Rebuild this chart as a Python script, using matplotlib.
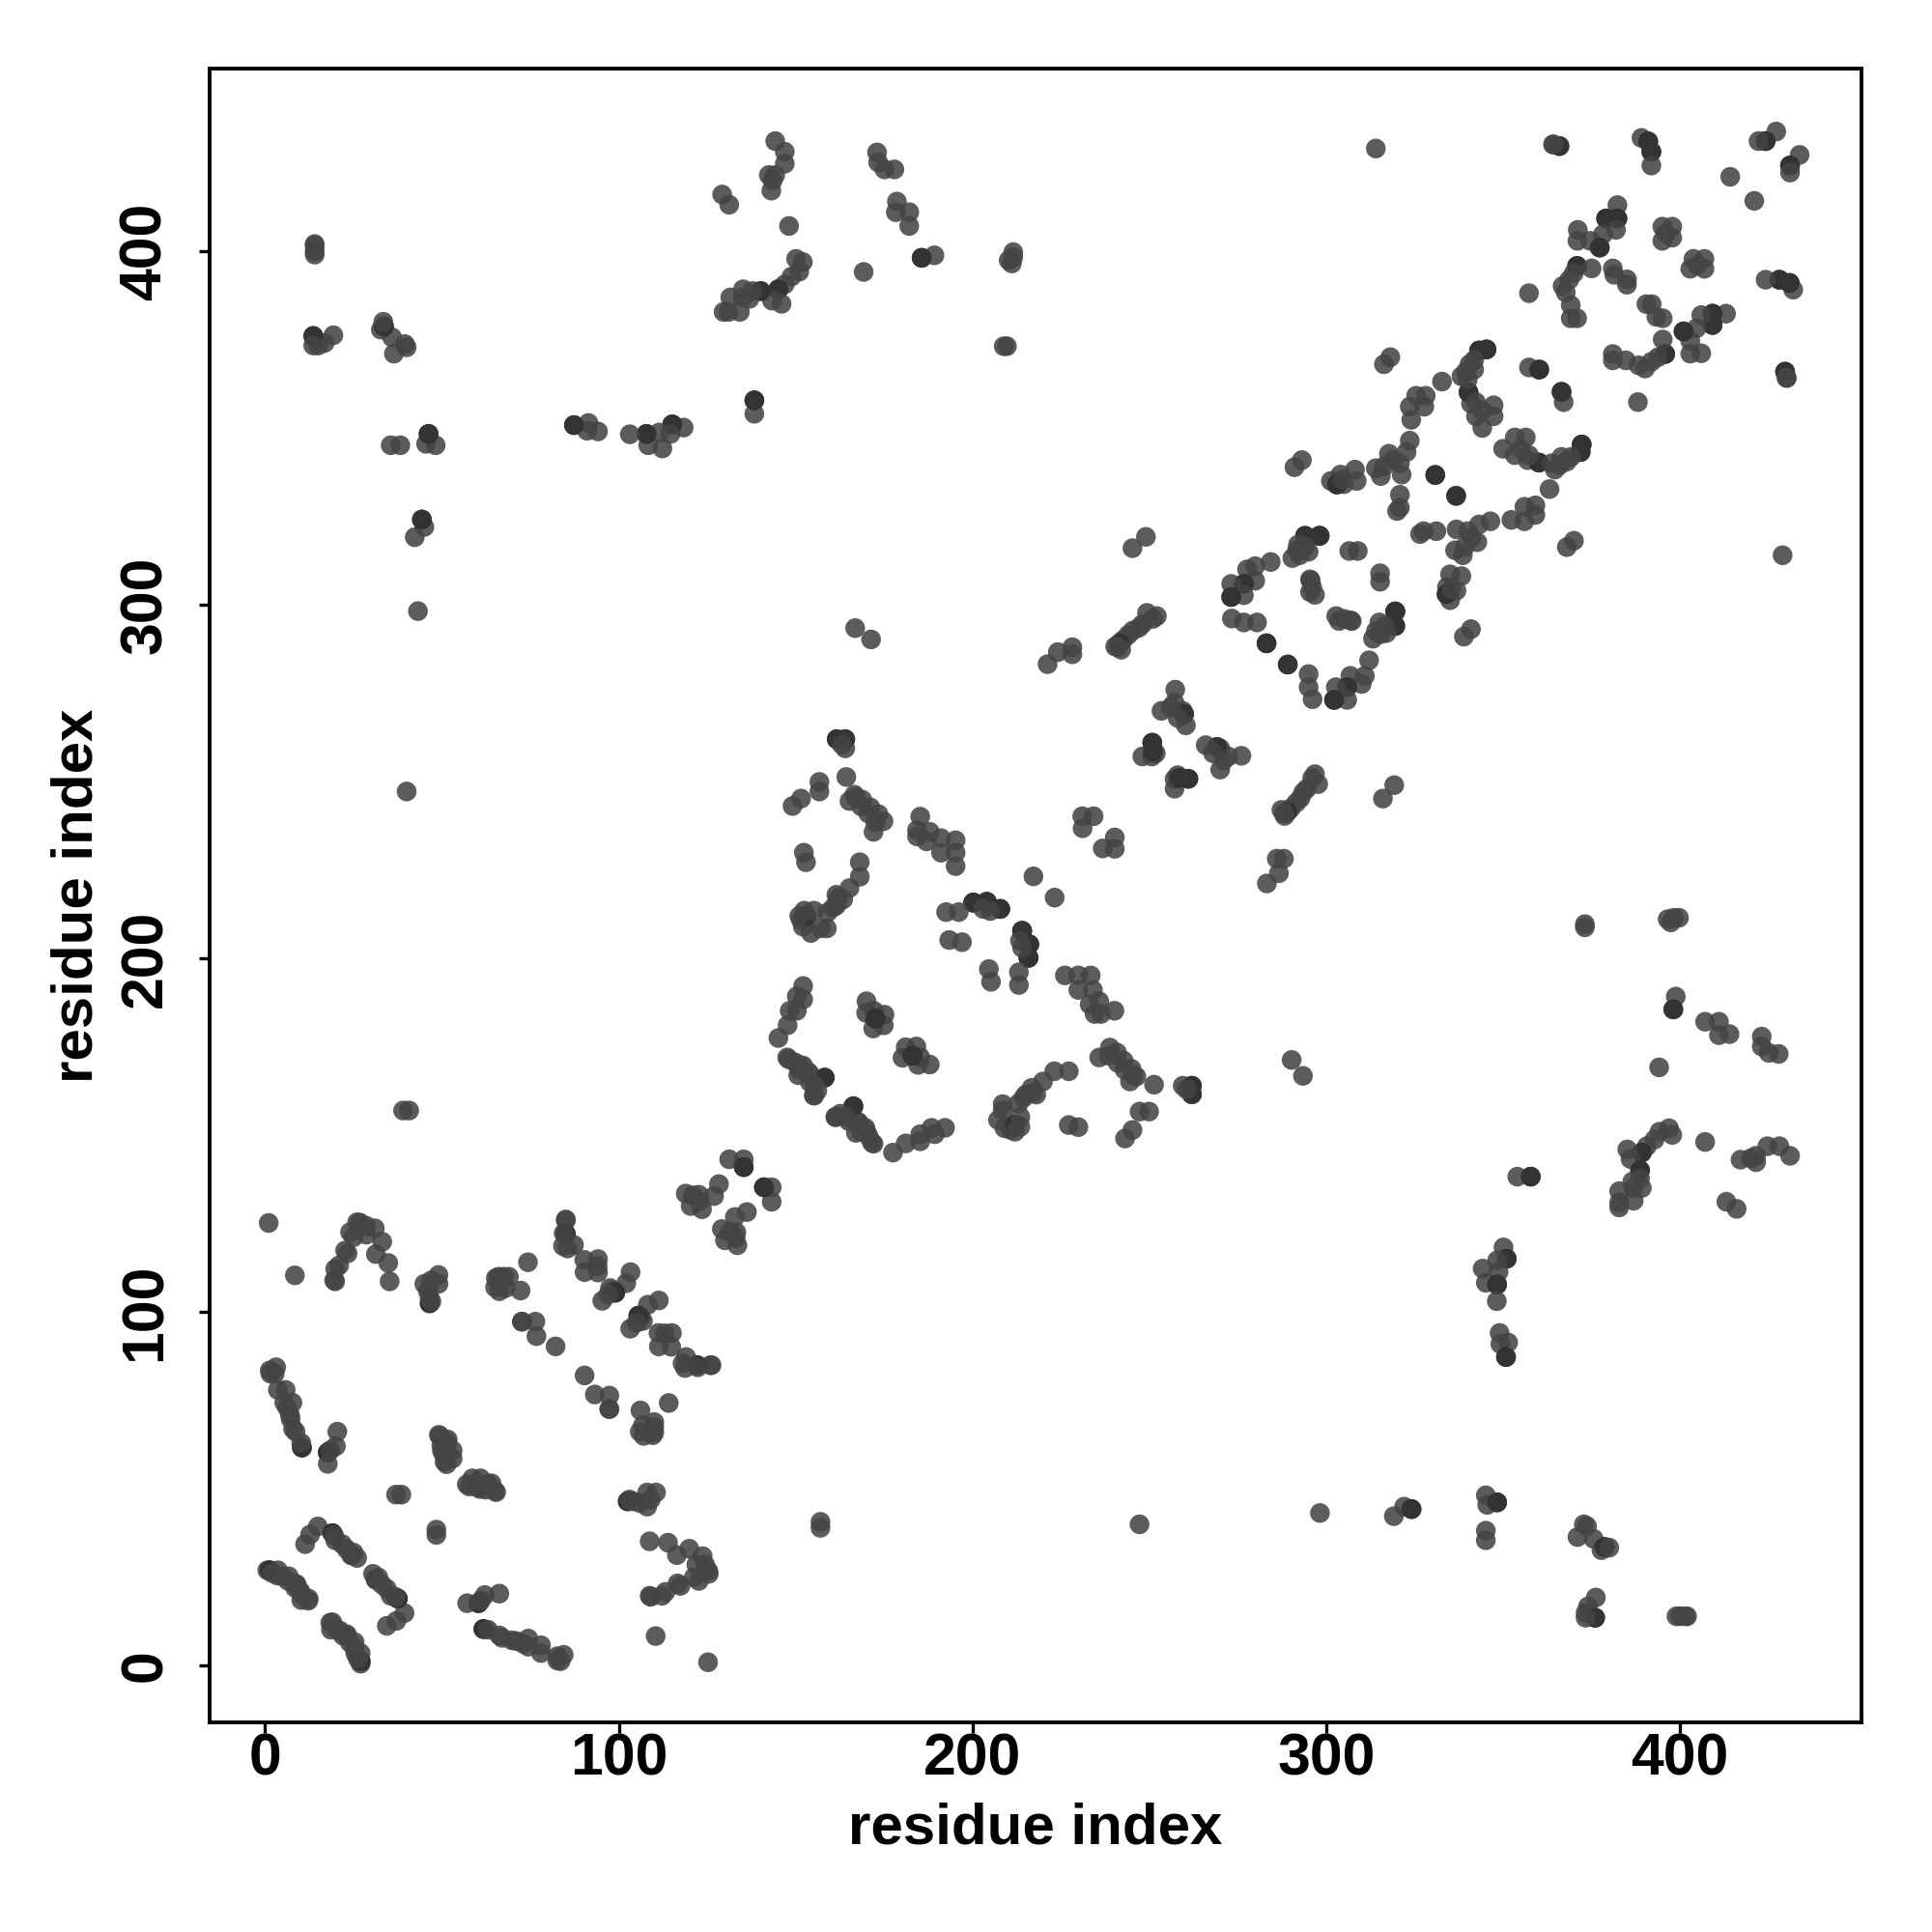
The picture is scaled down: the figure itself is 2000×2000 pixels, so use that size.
import matplotlib
matplotlib.use('Agg')
import matplotlib.pyplot as plt
from matplotlib.colors import to_rgba

plt.rcParams['font.family'] = ['Liberation Sans', 'DejaVu Sans']
plt.rcParams['font.weight'] = 'bold'

# contact pairs (i > j), the map is symmetric so each pair is drawn on both sides
# repeated pairs are the darker spots in the picture
contact_pairs = [
    # helix bundle near the origin
    (27, 0.6), (27, 1.3), (27, 1.3), (26.2, 2), (27, 3.6), (25.5, 3.5), (25.3, 5), (25.3, 6.7), (24, 6.5),
    (23, 8.6), (22, 8.5), (21.2, 9.9), (20, 10.5), (19, 12.3), (18.4, 12.2), (18.6, 10.2), (23.1, 8.9),
    (34.4, 11.3), (37.1, 12.7), (39.4, 14.9), (37.5, 19), (37.5, 19), (36.8, 19.5), (34.4, 21.8), (35.5, 19.8),
    (33, 23), (32, 25), (31.2, 24.5), (30.5, 26), (31.3, 24.3),
    (48.4, 37), (48.4, 38.5),
    (65, 49.4), (64, 51.6), (60.9, 53), (62.3, 49.8), (57.7, 50.7), (58.6, 53), (60, 50.5), (62, 51), (63, 51.5),
    (57, 51.3), (65.3, 49.1), (60.7, 50),
    (66.2, 20.4), (62.1, 20), (60.3, 17.7), (60.3, 17.7), (57.1, 17.7), (61, 18.5),
    (61.7, 10.4), (61.7, 10.4), (63, 10.2), (66.2, 8.6), (67, 7.9), (69.8, 7.2), (71, 7), (74.4, 7.7), (74.4, 5.4),
    (73, 6.2), (78, 5.8), (78, 3.6), (82.6, 2.7), (82.6, 1.5), (84.4, 3.1), (83.5, 1.3),
    (72.6, 97.3), (97.3, 76.4), (93.2, 76.7), (90.3, 82.1), (97.3, 72.6),
    (109.6, 65.2), (110, 68.9), (110, 67.5), (105.9, 66.2), (106.1, 72.2), (114.1, 74.3), (106.8, 68), (107, 65), (110, 66),
    (102.5, 46.5), (102.5, 46.5), (104, 46.5), (106, 46), (108, 45), (108, 49), (110.5, 49), (109, 47), (103, 47),
    (125.4, 26), (124.4, 28.6), (123.7, 31), (119.9, 33.1), (108.7, 35.2), (113.9, 34.8), (116.4, 31.3), (122.6, 24),
    (117.4, 22.6), (112.2, 19.8), (108.7, 19.8), (109, 19.5), (125.3, 26.8), (121.9, 28.6), (121.2, 25), (116.6, 23.3),
    (113.2, 20.9),
    (125.2, 1), (110.4, 8.4), (157, 39), (157, 40.7), (247.2, 40),
    # middle stretch along the diagonal
    (126.2, 85), (125.9, 85), (122.1, 85), (122.1, 85), (118.7, 84.2), (119, 87.3), (118, 85.5), (122.3, 84.4), (114.8, 90.2),
    (115, 94.1), (111.2, 94.1), (111.3, 90.3), (113, 94), (111.3, 103.3), (108.2, 102.1), (106, 98.5), (106, 98.5),
    (106.8, 97.5), (105.5, 99), (105.5, 99), (103.2, 95.3), (105, 97),
    (143.2, 131.2), (143.2, 135.3), (141, 135.3), (141, 135.3), (136.2, 128.3), (132.8, 126.9), (133.2, 122.6), (133.5, 118.9),
    (130, 120.3), (129.1, 123.5), (131.4, 122.7), (133, 121),
    (192.2, 152.1), (189.3, 150.3), (188.4, 152.1), (185.2, 148.3), (185.2, 150.3), (181.1, 147.7), (177.5, 145.1),
    (172, 147.6), (170.6, 149.8), (169.7, 152.1), (167.5, 153.9), (166.3, 158.2), (166.3, 158.2), (167, 150.7), (164.3, 155.3),
    (161.3, 155.1), (171.5, 148), (168.5, 151), (165, 154), (161.2, 155.2), (162.6, 156.1), (168, 153.4), (169.9, 151.1),
    (187.9, 170), (184.6, 169.9), (185.2, 172.1), (184.1, 175.1), (181.1, 174.9), (180.2, 171.9), (183, 172.5), (183, 172.5),
    (208.5, 158.8), (208.5, 157), (207.2, 154.3), (210.8, 151.5), (209, 152), (212, 153), (212, 153), (213.5, 155.2),
    (213.5, 152.4), (212, 151), (214.4, 160.6), (213, 159), (216.7, 163.4), (218, 161.5), (219.9, 165.2), (223.1, 168.1),
    (227.2, 168.1), (215, 161.5), (217, 162),
    (227.2, 152.9), (229.9, 152.3), (243.1, 149.1), (245.2, 151.5), (247.2, 156.7), (249.9, 156.7),
    (238.8, 174.8), (235.8, 172), (240.8, 173.4), (242.7, 171.1), (244.9, 168.8), (246.3, 166.6), (244.5, 165.2), (251.3, 164.3),
    (238.5, 172.5), (241, 170.5), (243, 168.5), (245.5, 167),
    (259.4, 164), (262, 164), (262, 164), (262, 161.6), (262, 161.6), (260.5, 163),
    (226.1, 195.2), (229.9, 195.2), (233.4, 195.2), (229.9, 191.1), (234, 191.1), (235.8, 187.9), (233.1, 187),
    (234.5, 184.3), (236.3, 184.3), (240.1, 185.2),
    (215.8, 200.2), (215.8, 200.2), (215.8, 200.2), (216, 204), (216, 204), (216, 204), (214, 207.8), (214, 207.8), (214, 207.8),
    (213.4, 205), (214, 203), (213.1, 196.1), (213.1, 192.5),
    (204.6, 197), (205.2, 193.4),
    (223.2, 217.2),
    (240.2, 231), (240.2, 234.2), (236.8, 231.1),
    (276, 257.3), (272.3, 257.1), (270, 259.4), (269.1, 259.8), (269.1, 259.8), (265.9, 260.3), (270, 253.4), (268, 258), (271, 256),
    (261, 250.8), (261, 250.8), (258, 251.8), (257.1, 248), (257.1, 250.7), (258.5, 251), (258.5, 251),
    (296.8, 252.1), (297.7, 249.3), (296, 251), (294.5, 248), (293.5, 247), (292.7, 245.3), (291.5, 244), (290, 242.5),
    (289, 241.5), (289, 241.5), (288, 241), (287.3, 242), (288.2, 240.3),
    (288, 228.2), (286, 228.2), (286.6, 224.1), (283.2, 221.2),
    (293.4, 166.8), (290.2, 171.3), (316, 245.2), (319.2, 249),
    # upper diagonal loops
    (319.5, 298.1), (319.5, 298.1), (319.5, 298.1), (319.5, 294), (319.5, 294), (315.4, 291.7), (315, 295), (313.2, 290.4), (314, 292.5),
    (316.5, 294), (317, 292), (312.1, 284.3), (310.9, 279.9), (310, 277.6), (306.8, 279.9), (305.9, 276.7), (305.9, 276.7),
    (305.9, 273.1), (302.7, 276.7), (302.2, 273.1), (302.2, 273.1), (296.1, 273.3), (295, 276.7), (295, 280.4), (289.1, 283.1), (289.1, 283.1),
    (307.2, 295.4), (303.6, 295.4), (302.8, 296.8), (305, 296), (306.8, 295.6),
    (315.2, 306.5), (315.2, 308.9),
    (335, 308.6), (338.2, 308.1), (336.8, 304), (334.1, 305), (335, 301.3), (334, 303), (334, 303), (335.4, 304.5), (340.9, 293.1), (338.9, 291),
    (336.7, 330.8), (336.7, 330.8),
    (331.1, 320.8), (327.5, 320.8), (326.5, 320),
    (359.1, 328.1), (356, 327.7), (359.1, 325.4), (356, 323.6), (352.3, 324), (346.4, 323.6), (343.2, 322.7), (340, 320.8),
    (336.8, 321.3), (342.7, 317.7), (339.1, 316.3), (336.4, 315.4), (338.6, 314), (341, 319),
    (370, 318.1), (368, 316.3), (363.1, 332.7),
    (350, 344.1), (353.3, 347.3), (356.4, 347.3), (353.3, 342.3), (356.9, 340.9), (360.1, 340.2), (360.1, 340.2), (357.3, 342.3), (355, 344),
    (372.2, 345.3), (372.2, 345.3), (371.9, 343.2), (371.9, 343.2), (369.2, 341.8), (366.5, 341.8), (364.6, 338.2), (363.7, 340), (366, 339.5), (368, 340.5),
    (367.1, 357.3), (366.5, 360.2), (366.5, 360.2), (388.1, 357.3),
    (395.8, 370.9), (395.8, 370.9), (395.1, 375), (393.8, 370), (391.9, 368.7), (390.1, 366.8), (388.3, 367.7), (384.7, 369.1), (381, 370.9), (381, 369.1),
    (395.1, 381), (393.3, 381.4), (392, 385), (390.5, 385),
    (413, 382.3), (409.2, 382.3), (409.2, 382.3), (409.2, 379.1), (409.2, 379.1), (406, 381.9), (404.7, 378.2), (406, 371.1), (402.9, 371), (402.9, 374.6),
    (401, 377.3), (401, 377.3),
    (406.9, 397.8), (406.9, 395), (403.8, 397.8), (402.9, 395), (405, 396),
    (432, 389.1), (431, 391), (431, 391), (428.1, 391.9), (428.1, 391.9), (424.2, 391.9),
    (433.8, 427.2), (431.1, 424.2), (431.1, 424.2), (431.1, 422.2), (421, 414.2),
    (429.7, 365.9), (429.7, 365.9), (430.2, 364.1), (429, 314),
    # far from the diagonal, right hand side
    (430.1, 364.2), (373.1, 209.7), (373.1, 208.8),
    (396.5, 211.1), (398.3, 211.5), (399.7, 211.5), (397.4, 210.2),
    (398.8, 189.2), (398.1, 185.6), (398.1, 185.6),
    (407.1, 182.1), (411, 182.1), (411, 178.3), (414, 178.6),
    (423.1, 177.9), (423.1, 175.1), (425.1, 173.3), (427.9, 173), (394.1, 169.2),
    (397.8, 150.1), (396.9, 152), (394.2, 151), (392.8, 148.8), (390.6, 146.9), (389.2, 145.1), (389.2, 145.1), (385.1, 146), (386, 143.3),
    (388.7, 140.1), (388.7, 140.1), (388.7, 137.8), (386.9, 135.1), (389.2, 135.1), (382.8, 134.2), (382.8, 129.6), (386.9, 131.5), (386.5, 136.9),
    (382.8, 131), (407.1, 148.1),
    (417.1, 143.1), (421.5, 144.2), (421.5, 142.4), (424.7, 146.9), (428.1, 146.9), (431.1, 144.2), (420, 143.5),
    (413.1, 131.2), (416, 129.2),
    (354, 138.3), (357.8, 138.3), (357.8, 138.3),
    (350.1, 118.3), (351, 115.1), (351, 115.1), (348.3, 114.6), (344.2, 112.3), (348.7, 111.4), (345.1, 108.3), (348.3, 107.8), (348.3, 107.8), (348.2, 103.1),
    (349, 94.1), (351.4, 91.4), (349.2, 91), (350.8, 87.3), (350.8, 87.3),
    (298.2, 43.2), (319.1, 42.3), (322, 45), (324.1, 44.3), (324.1, 44.3),
    (345.1, 48.2), (345.5, 45.5), (348.3, 46.2), (348.3, 46.2), (345.1, 38.2), (345.1, 35.5),
    (372.8, 40), (373.7, 39.5), (371, 36.4), (375.6, 35.9), (377.8, 32.7), (378.7, 33.6), (378.7, 33.6), (380, 33.4),
    (376.2, 19.3), (374, 16.8), (373.3, 15), (376, 13.6), (376, 13.6), (373.3, 13.6),
    (399, 14), (402, 14), (401.5, 14), (400, 14),
]

x_ticks = [0, 100, 200, 300, 400]
y_ticks = [0, 100, 200, 300, 400]
x_label = 'residue index'
y_label = 'residue index'

res_a = [p[0] for p in contact_pairs]
res_b = [p[1] for p in contact_pairs]

# repeated pairs get the dark shade, the rest the usual mid grey
normal_col = to_rgba('#444444', 0.87)
dark_col = to_rgba('#333333', 0.95)
cols = [dark_col if contact_pairs.count(p) > 1 else normal_col for p in contact_pairs]

fig = plt.figure(figsize=(10, 10), dpi=200)
ax = fig.add_axes([217 / 2000, 1 - 1783 / 2000, (1927 - 217) / 2000, (1783 - 71) / 2000])

# both halves of the contact map
ax.scatter(res_a + res_b, res_b + res_a, s=54, c=cols + cols, linewidths=0, zorder=3)

ax.set_xlim(-15.7, 451.3)
ax.set_ylim(-16, 451.6)
ax.set_xticks(x_ticks)
ax.set_yticks(y_ticks)
ax.tick_params(axis='both', length=3.8, width=1.2, labelsize=21.9)
ax.tick_params(axis='x', pad=0)
ax.tick_params(axis='y', pad=9.5)
for lab in ax.get_yticklabels():
    lab.set_rotation(90)
    lab.set_va('center')
for s in ax.spines.values():
    s.set_linewidth(1.4)

ax.set_xlabel(x_label, fontsize=21.6, fontweight='bold', labelpad=5.4)
ax.set_ylabel(y_label, fontsize=21.6, fontweight='bold', labelpad=5.7)

fig.savefig('out.png', dpi=200)
